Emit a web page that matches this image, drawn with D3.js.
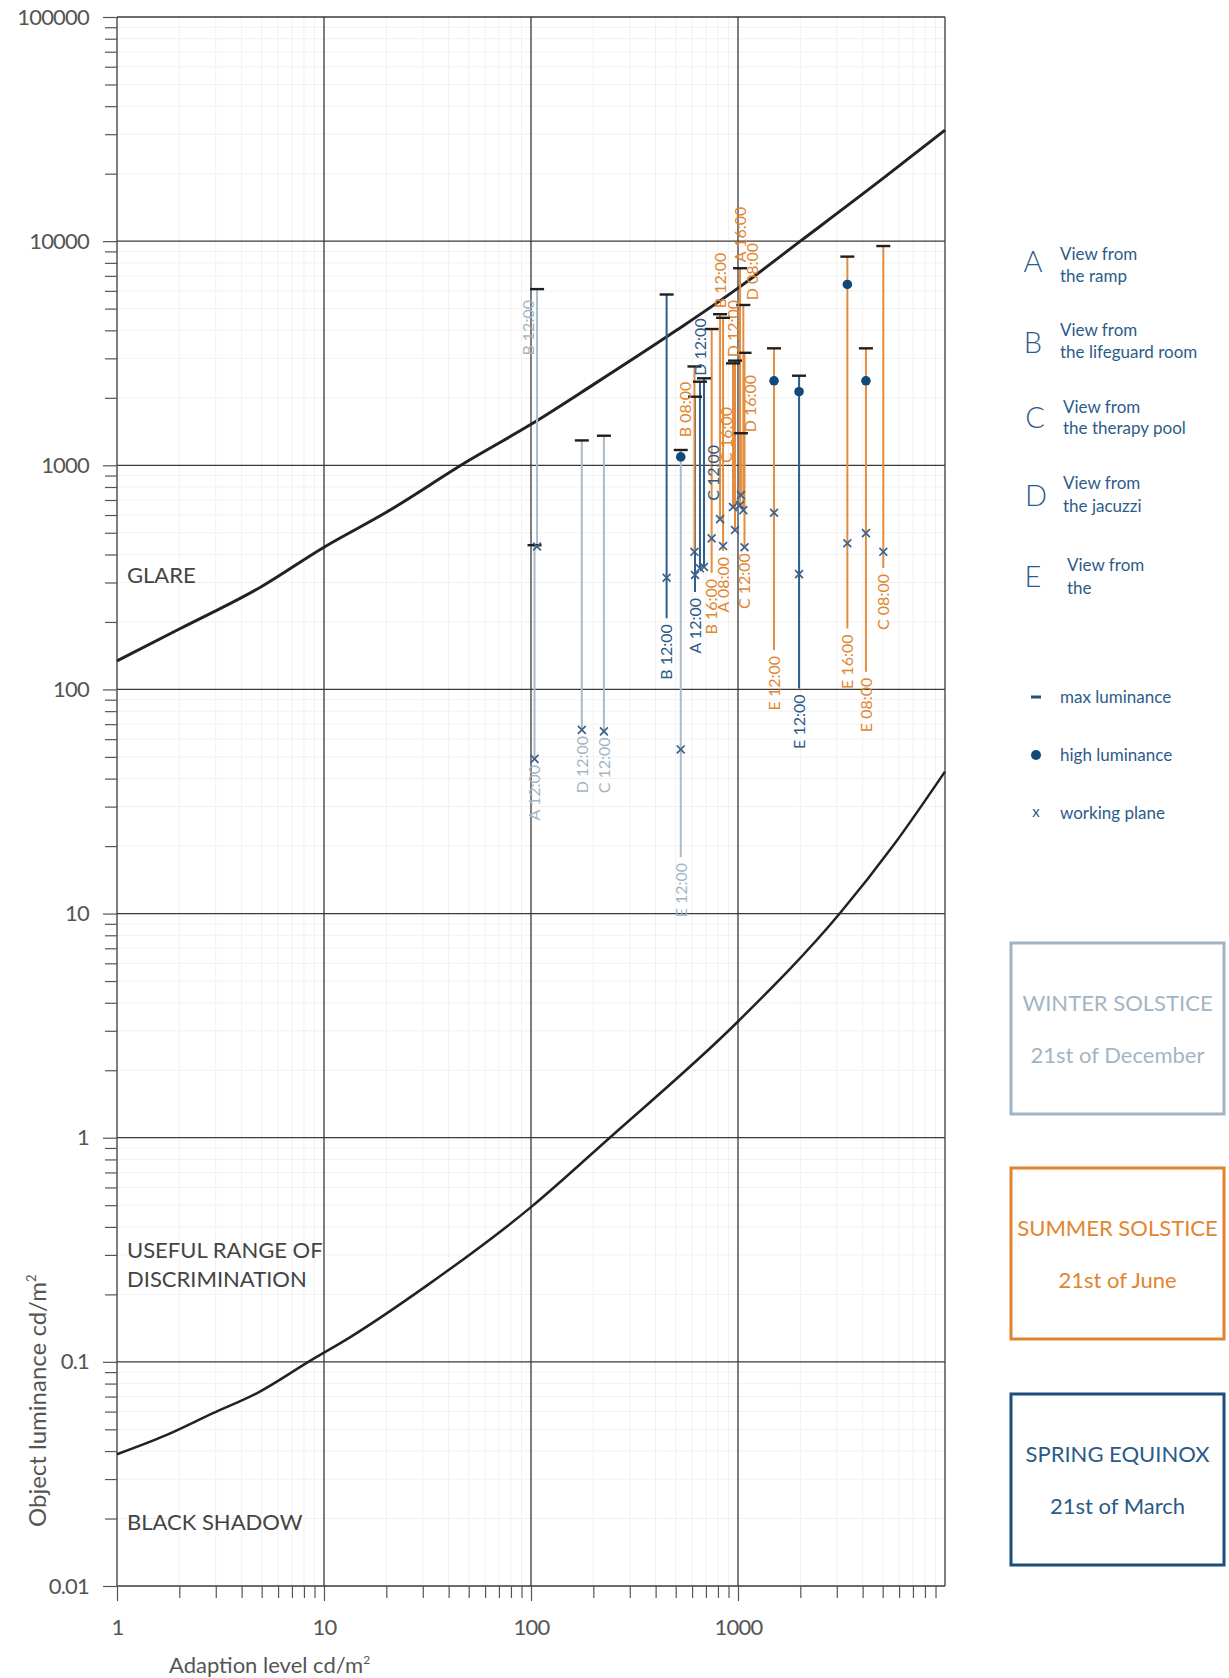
<!DOCTYPE html>
<html>
<head>
<meta charset="utf-8">
<script src="https://cdn.jsdelivr.net/npm/d3@7"></script>
<style>
  body { margin: 0; background: #fff; }
  svg { display: block; font-family: Lato, "Open Sans", sans-serif; }
</style>
</head>
<body>
<script>
const width = 1229, height = 1678;

// axis ticks
const xTicks = [1, 10, 100, 1000];
const xTickLabels = ["1", "10", "100", "1000"];
const yTicks = [0.01, 0.1, 1, 10, 100, 1000, 10000, 100000];
const yTickLabels = ["0.01", "0.1", "1", "10", "100", "1000", "10000", "100000"];

// glare threshold curve
const glareL   = [1, 2, 5, 10, 20, 50, 100, 200, 500, 1000, 2000, 5000, 10000];
const glareLum = [134, 186, 288, 431, 617, 1050, 1523, 2290, 3980, 6170, 10000, 19000, 31300];

// black shadow threshold curve
const shadowL   = [1, 1.74, 2.91, 4.73, 8.56, 13.4, 31.6, 100, 240, 1000, 3100, 5600, 10000];
const shadowLum = [0.0387, 0.0472, 0.059, 0.0724, 0.101, 0.129, 0.22, 0.49, 1, 3.3, 10, 20, 43];

// measurements
const pointLabels = ["A 12:00", "B 12:00", "D 12:00", "C 12:00", "E 12:00",
                     "B 12:00", "A 12:00", "D 12:00", "C 12:00", "E 12:00",
                     "B 08:00", "B 16:00", "A 08:00", "B 12:00", "D 12:00", "C 16:00", "A 16:00",
                     "D 08:00", "D 16:00", "C 12:00", "E 12:00", "E 16:00", "E 08:00", "C 08:00"];
const pointSeason = ["winter", "winter", "winter", "winter", "winter",
                     "spring", "spring", "spring", "spring", "spring",
                     "summer", "summer", "summer", "summer", "summer", "summer", "summer",
                     "summer", "summer", "summer", "summer", "summer", "summer", "summer"];
const adaptation = [104, 107, 176, 225, 529,
                    452, 620, 655, 685, 1972,
                    616, 746, 847, 819, 946, 967, 1023, 1061, 1033, 1075, 1493, 3375, 4150, 5035];
const maxLum  = [440, 6110, 1291, 1355, 1170,
                 5780, 2023, 2360, 2444, 2510,
                 2760, 4055, 4550, 4720, 2850, 2930, 7570, 5190, 1390, 3175, 3325, 8530, 3325, 9510];
const highLum = [null, null, null, null, 1090,
                 null, null, null, null, 2130,
                 null, null, null, null, null, null, null, null, null, null, 2382, 6410, 2382, null];
const workLum = [49, 434, 66, 65, 54,
                 315, 324, 347, 352, 327,
                 411, 472, 436, 575, 651, 514, 665, 631, 736, 431, 614, 449, 498, 411];
// where the label sits: below the line end, above the cap, or beside the line
const labelSide = ["below", "left", "below", "below", "below",
                   "below", "below", "above", "right", "below",
                   "left", "below", "below", "above", "above", "left", "above",
                   "right", "right", "below", "below", "below", "below", "below"];
// luminance of the line tail (below) or of the label's upper end (left / right)
const labelLum = [49, 5460, 66, 65, 17.9,
                  208, 272, null, 1233, 101,
                  2360, 331, 415, null, null, 1820, null, 9820, 2530, 431, 150, 187, 120, 348];

// legend
const viewLetters = ["A", "B", "C", "D", "E"];
const viewLine1 = ["View from", "View from", "View from", "View from", "View from"];
const viewLine2 = ["the ramp", "the lifeguard room", "the therapy pool", "the jacuzzi", "the"];
const symbolNames = ["max luminance", "high luminance", "working plane"];
const seasonNames = ["WINTER SOLSTICE", "SUMMER SOLSTICE", "SPRING EQUINOX"];
const seasonDates = ["21st of December", "21st of June", "21st of March"];
const seasonKeys = ["winter", "summer", "spring"];

const lineColor = { winter: "#a9bbc9", summer: "#e58d3e", spring: "#2f5f8d" };
const textColor = { winter: "#a3b5c4", summer: "#e2852f", spring: "#2b5a88" };
const boxColor  = { winter: "#9fb3c3", summer: "#e0822e", spring: "#1c4d7b" };

const points = pointLabels.map((d, i) => ({
  label: d, season: pointSeason[i], L: adaptation[i], max: maxLum[i],
  high: highLum[i], work: workLum[i], side: labelSide[i], at: labelLum[i]
}));

const x = d3.scaleLog().domain([1, 10000]).range([117, 945]);
const y = d3.scaleLog().domain([0.01, 100000]).range([1586, 17]);

const svg = d3.select("body").append("svg")
  .attr("width", width).attr("height", height);

// minor values per decade
let xMinor = [], yMinor = [];
[1, 10, 100, 1000].forEach(d => d3.range(2, 10).forEach(k => xMinor.push(d * k)));
[0.01, 0.1, 1, 10, 100, 1000, 10000].forEach(d => d3.range(2, 10).forEach(k => yMinor.push(+(d * k).toPrecision(3))));

// minor grid
const grid = svg.append("g");
grid.selectAll(".vminor").data(xMinor).enter().append("line")
  .attr("x1", d => x(d)).attr("x2", d => x(d)).attr("y1", y(100000)).attr("y2", y(0.01))
  .attr("stroke", "#f1f1f1").attr("stroke-width", 1);
grid.selectAll(".hminor").data(yMinor).enter().append("line")
  .attr("x1", x(1)).attr("x2", x(10000)).attr("y1", d => y(d)).attr("y2", d => y(d))
  .attr("stroke", "#f1f1f1").attr("stroke-width", 1);

// major grid
grid.selectAll(".vmajor").data(xTicks.concat([10000])).enter().append("line")
  .attr("x1", d => x(d)).attr("x2", d => x(d)).attr("y1", y(100000)).attr("y2", y(0.01))
  .attr("stroke", "#3a3a3a").attr("stroke-width", 1.3);
grid.selectAll(".hmajor").data(yTicks).enter().append("line")
  .attr("x1", x(1)).attr("x2", x(10000)).attr("y1", d => y(d)).attr("y2", d => y(d))
  .attr("stroke", "#3a3a3a").attr("stroke-width", 1.3);

// axes
function styleAxis(g) {
  g.select(".domain").remove();
  g.selectAll(".tick line").attr("stroke", "#555").attr("stroke-width", 1.2);
  g.selectAll(".tick text").attr("fill", "#555").attr("font-size", 22)
    .attr("font-family", "Lato, sans-serif").attr("letter-spacing", -0.8);
}
svg.append("g").attr("transform", "translate(" + x(1) + ",0)")
  .call(d3.axisLeft(y).tickValues(yMinor).tickSize(12).tickFormat(""))
  .call(styleAxis);
svg.append("g").attr("transform", "translate(" + x(1) + ",0)")
  .call(d3.axisLeft(y).tickValues(yTicks).tickSize(14).tickPadding(14)
    .tickFormat((d, i) => yTickLabels[i]))
  .call(styleAxis);
svg.append("g").attr("transform", "translate(0," + y(0.01) + ")")
  .call(d3.axisBottom(x).tickValues(xMinor).tickSize(12).tickFormat(""))
  .call(styleAxis);
svg.append("g").attr("transform", "translate(0," + y(0.01) + ")")
  .call(d3.axisBottom(x).tickValues(xTicks).tickSize(15).tickPadding(18)
    .tickFormat((d, i) => xTickLabels[i]))
  .call(styleAxis);

// axis titles
const xt = svg.append("text").attr("x", 169).attr("y", 1673)
  .attr("font-size", 22).attr("fill", "#555")
  .text("Adaption level cd/m");
xt.append("tspan").attr("font-size", 12).attr("dy", -9).text("2");

const yt = svg.append("text").attr("transform", "translate(46,1527) rotate(-90)")
  .attr("font-size", 24).attr("fill", "#555")
  .text("Object luminance cd/m");
yt.append("tspan").attr("font-size", 13).attr("dy", -10).text("2");

// zone names
const zones = svg.append("g").attr("fill", "#444").attr("font-size", 22);
zones.append("text").attr("x", 127).attr("y", 583).text("GLARE");
zones.append("text").attr("x", 127).attr("y", 1258).text("USEFUL RANGE OF");
zones.append("text").attr("x", 127).attr("y", 1287).text("DISCRIMINATION");
zones.append("text").attr("x", 127).attr("y", 1530).text("BLACK SHADOW");

// threshold curves
const curve = d3.line().x(d => x(d[0])).y(d => y(d[1])).curve(d3.curveMonotoneX);
svg.append("path").datum(glareL.map((d, i) => [d, glareLum[i]]))
  .attr("d", curve).attr("fill", "none").attr("stroke", "#222").attr("stroke-width", 3);
svg.append("path").datum(shadowL.map((d, i) => [d, shadowLum[i]]))
  .attr("d", curve).attr("fill", "none").attr("stroke", "#222").attr("stroke-width", 2.5);

// measurement lines
const marks = svg.append("g");
marks.selectAll(".range").data(points).enter().append("line")
  .attr("x1", d => x(d.L)).attr("x2", d => x(d.L))
  .attr("y1", d => y(d.max))
  .attr("y2", d => d.side === "below" ? y(d.at) : y(d.work))
  .attr("stroke", d => lineColor[d.season]).attr("stroke-width", 2);

// max caps
marks.selectAll(".cap").data(points).enter().append("line")
  .attr("x1", d => x(d.L) - 7).attr("x2", d => x(d.L) + 7)
  .attr("y1", d => y(d.max)).attr("y2", d => y(d.max))
  .attr("stroke", "#1e1e1e").attr("stroke-width", 2.4);

// working plane markers
marks.selectAll(".work").data(points).enter().append("path")
  .attr("transform", d => "translate(" + x(d.L) + "," + y(d.work) + ")")
  .attr("d", d3.symbol(d3.symbolTimes, 42))
  .attr("fill", "none").attr("stroke", "#3a618b").attr("stroke-width", 1.7);

// high luminance dots
marks.selectAll(".high").data(points.filter(d => d.high)).enter().append("circle")
  .attr("cx", d => x(d.L)).attr("cy", d => y(d.high)).attr("r", 4.8)
  .attr("fill", "#0f4a7b");

// labels
function labelTransform(d) {
  let px = x(d.L), py;
  if (d.side === "below") py = y(d.at) + 6;
  else if (d.side === "above") py = y(d.max) - 6;
  else {
    py = y(d.at);
    px += d.side === "left" ? -9 : 9;
  }
  return "translate(" + px + "," + py + ") rotate(-90)";
}
marks.selectAll(".lab").data(points).enter().append("text")
  .attr("transform", labelTransform)
  .attr("dy", "0.36em")
  .attr("text-anchor", d => d.side === "above" ? "start" : "end")
  .attr("font-size", 16)
  .attr("fill", d => textColor[d.season])
  .text(d => d.label);

// legend: views
const views = svg.append("g").attr("fill", "#2d5b89");
views.selectAll(".letter").data(viewLetters).enter().append("text")
  .attr("x", (d, i) => [1033, 1033, 1035, 1036, 1033][i])
  .attr("y", (d, i) => [272, 353, 428, 506, 587][i])
  .attr("text-anchor", "middle").attr("font-size", 29).attr("font-weight", 300)
  .text(d => d);
views.selectAll(".l1").data(viewLine1).enter().append("text")
  .attr("x", (d, i) => [1060, 1060, 1063, 1063, 1067][i])
  .attr("y", (d, i) => [260, 336, 413, 489, 571][i])
  .attr("font-size", 17).text(d => d);
views.selectAll(".l2").data(viewLine2).enter().append("text")
  .attr("x", (d, i) => [1060, 1060, 1063, 1063, 1067][i])
  .attr("y", (d, i) => [282, 358, 434, 512, 594][i])
  .attr("font-size", 17).text(d => d);

// legend: symbols
const sym = svg.append("g");
sym.append("line").attr("x1", 1031).attr("x2", 1041).attr("y1", 697).attr("y2", 697)
  .attr("stroke", "#1f4f7e").attr("stroke-width", 3);
sym.append("circle").attr("cx", 1036).attr("cy", 755).attr("r", 5).attr("fill", "#0f4a7b");
sym.append("text").attr("x", 1036).attr("y", 817).attr("text-anchor", "middle")
  .attr("font-size", 15).attr("fill", "#2d5b89").text("x");
sym.selectAll(".sn").data(symbolNames).enter().append("text")
  .attr("x", 1060).attr("y", (d, i) => [703, 761, 819][i])
  .attr("font-size", 17).attr("fill", "#2d5b89").text(d => d);

// legend: seasons
const boxes = svg.append("g").selectAll(".box").data(seasonKeys).enter().append("g")
  .attr("transform", (d, i) => "translate(1011," + [943, 1168, 1394][i] + ")");
boxes.append("rect").attr("width", 213).attr("height", 171)
  .attr("fill", "none").attr("stroke", d => boxColor[d]).attr("stroke-width", 3);
boxes.append("text").attr("x", 106.5).attr("y", 68).attr("text-anchor", "middle")
  .attr("font-size", 22).attr("fill", d => textColor[d])
  .text((d, i) => seasonNames[i]);
boxes.append("text").attr("x", 106.5).attr("y", 120).attr("text-anchor", "middle")
  .attr("font-size", 22).attr("fill", d => textColor[d])
  .text((d, i) => seasonDates[i]);
</script>
</body>
</html>
